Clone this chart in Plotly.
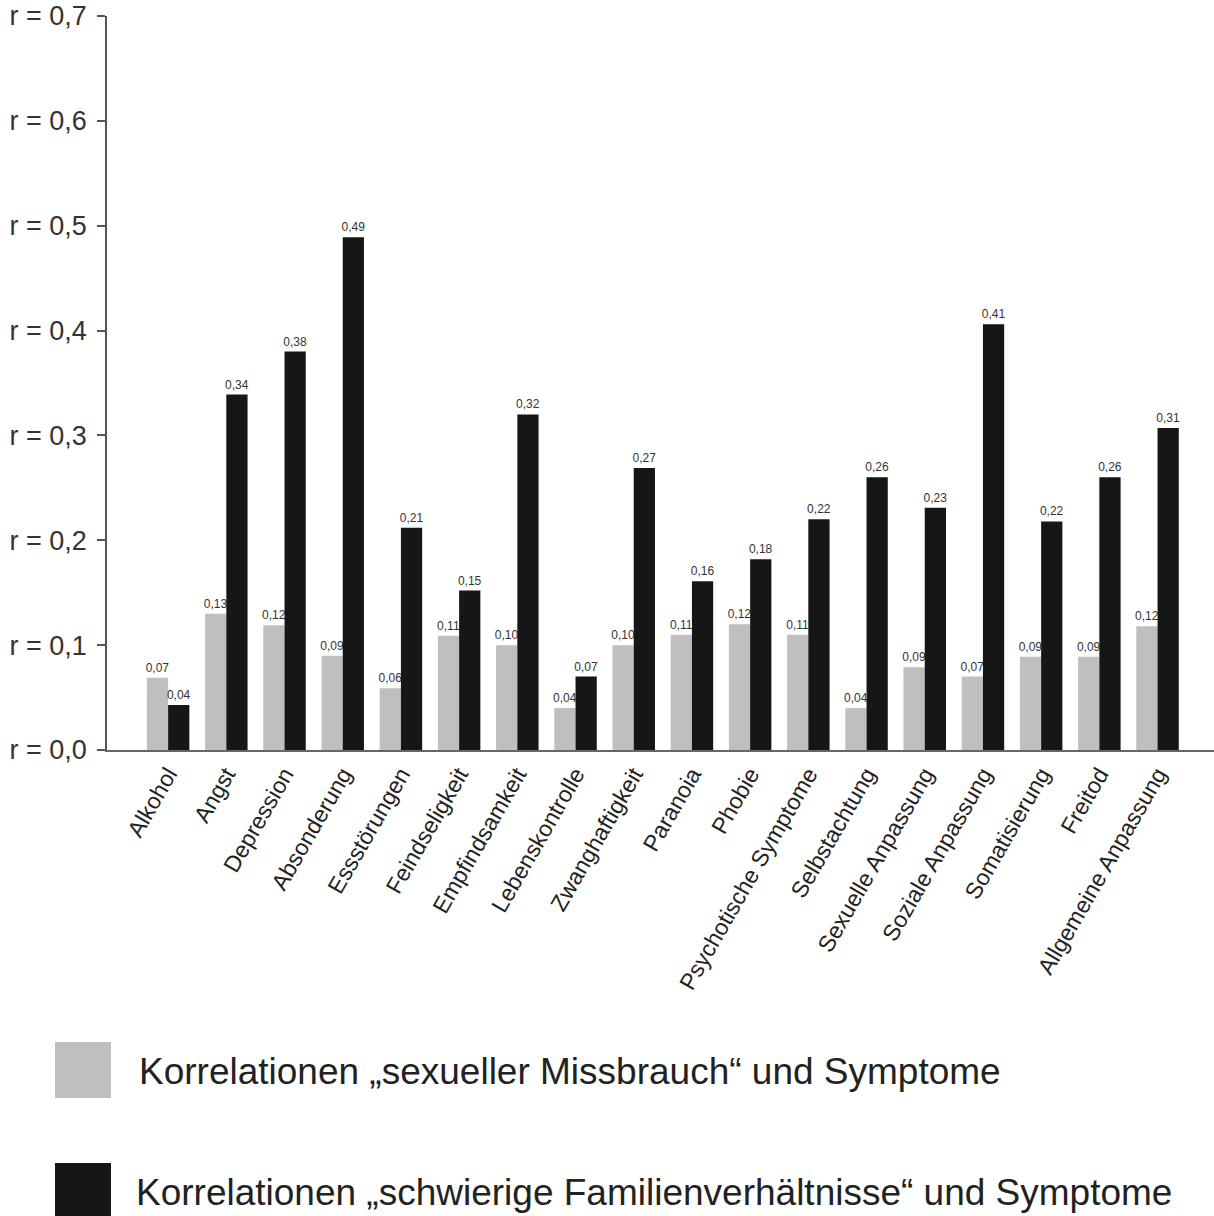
import plotly.graph_objects as go

categories = ["Alkohol", "Angst", "Depression", "Absonderung", "Essstörungen",
              "Feindseligkeit", "Empfindsamkeit", "Lebenskontrolle", "Zwanghaftigkeit",
              "Paranoia", "Phobie", "Psychotische Symptome", "Selbstachtung",
              "Sexuelle Anpassung", "Soziale Anpassung", "Somatisierung", "Freitod",
              "Allgemeine Anpassung"]

missbrauch = [0.069, 0.13, 0.119, 0.09, 0.059, 0.109, 0.10, 0.04, 0.10,
              0.11, 0.12, 0.11, 0.04, 0.079, 0.07, 0.089, 0.089, 0.118]
missbrauch_labels = ["0,07", "0,13", "0,12", "0,09", "0,06", "0,11", "0,10", "0,04", "0,10",
                     "0,11", "0,12", "0,11", "0,04", "0,09", "0,07", "0,09", "0,09", "0,12"]

familie = [0.043, 0.339, 0.38, 0.489, 0.212, 0.152, 0.32, 0.07, 0.269,
           0.161, 0.182, 0.22, 0.26, 0.231, 0.406, 0.218, 0.26, 0.307]
familie_labels = ["0,04", "0,34", "0,38", "0,49", "0,21", "0,15", "0,32", "0,07", "0,27",
                  "0,16", "0,18", "0,22", "0,26", "0,23", "0,41", "0,22", "0,26", "0,31"]

y_tickvals = [0.0, 0.1, 0.2, 0.3, 0.4, 0.5, 0.6, 0.7]
y_ticktext = ["r = 0,0", "r = 0,1", "r = 0,2", "r = 0,3", "r = 0,4", "r = 0,5", "r = 0,6", "r = 0,7"]

legend_names = ["Korrelationen „sexueller Missbrauch“ und Symptome",
                "Korrelationen „schwierige Familienverhältnisse“ und Symptome"]

GRAY = "#bfbfbf"
BLACK = "#161616"
FONT = "Liberation Sans, Arial, sans-serif"

W, H = 1214, 1216
ML, MR, MT, MB = 107, 0, 16, 466
PW, PH = W - ML - MR, H - MT - MB


def px_x(x):
    return (x - ML) / PW


def px_y(y):
    return (H - MB - y) / PH


fig = go.Figure()
fig.add_trace(go.Bar(x=categories, y=missbrauch, name=legend_names[0],
                     marker=dict(color=GRAY, line=dict(width=0)),
                     text=missbrauch_labels, textposition="outside",
                     textfont=dict(size=12, color="#333333", family=FONT),
                     constraintext="none", cliponaxis=False))
fig.add_trace(go.Bar(x=categories, y=familie, name=legend_names[1],
                     marker=dict(color=BLACK, line=dict(width=0)),
                     text=familie_labels, textposition="outside",
                     textfont=dict(size=12, color="#333333", family=FONT),
                     constraintext="none", cliponaxis=False))

# custom legend (large swatches)
swatches = [(1042, GRAY), (1163, BLACK)]
for i, (ytop, col) in enumerate(swatches):
    fig.add_shape(type="rect", xref="paper", yref="paper",
                  x0=px_x(55), x1=px_x(111), y0=px_y(ytop + 56), y1=px_y(ytop),
                  fillcolor=col, line=dict(width=0))
    fig.add_annotation(xref="paper", yref="paper", x=px_x(134 + (3 if i == 0 else 0)),
                       y=px_y(ytop + 29), xanchor="left", yanchor="middle",
                       text=legend_names[i], showarrow=False,
                       font=dict(size=37, color="#222222", family=FONT))

fig.update_layout(
    width=W, height=H,
    margin=dict(l=ML, r=MR, t=MT, b=MB, autoexpand=False),
    paper_bgcolor="white", plot_bgcolor="white",
    barmode="group", bargap=0.27, bargroupgap=0.0,
    showlegend=False,
    font=dict(family=FONT, color="#333333"),
)
fig.update_xaxes(range=[-1.05, 17.97], showline=True, linecolor="#666666", linewidth=1.5,
                 ticks="", showgrid=False, tickangle=-60,
                 tickfont=dict(size=23, color="#222222", family=FONT))
fig.update_yaxes(range=[0, 0.7], tickvals=y_tickvals, ticktext=y_ticktext,
                 showline=True, linecolor="#555555", linewidth=1.5,
                 ticks="outside", ticklen=8, tickcolor="#555555", tickwidth=1.5,
                 ticklabelstandoff=5, ticklabeloverflow="allow",
                 showgrid=False, zeroline=False,
                 tickfont=dict(size=27, color="#333333", family=FONT))

fig.write_html("out.html", config={"displayModeBar": False},
               post_script="document.body.style.margin='0';")
